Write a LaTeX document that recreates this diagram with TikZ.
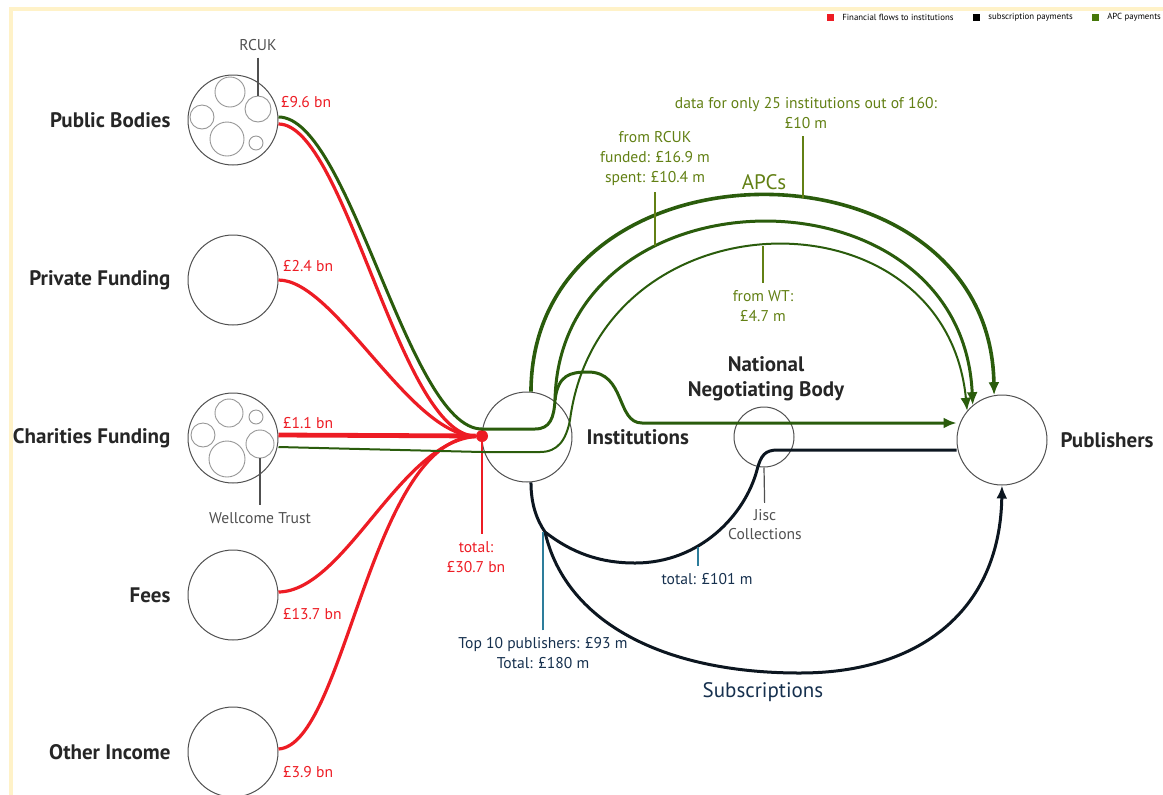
\documentclass[tikz,border=0pt]{standalone}
\usepackage{fontspec}
\setmainfont{PT Sans}
\usetikzlibrary{arrows.meta, calc, positioning}
\definecolor{flowred}{RGB}{237,28,36}
\definecolor{apcline}{RGB}{42,92,12}
\definecolor{apctext}{RGB}{98,128,20}
\definecolor{keygreen}{RGB}{70,120,10}
\definecolor{subline}{RGB}{12,22,32}
\definecolor{subtext}{RGB}{22,48,78}
\definecolor{subpointer}{RGB}{45,125,155}
\definecolor{cream}{RGB}{255,242,200}
\definecolor{ringgray}{RGB}{80,80,80}
\definecolor{innergray}{RGB}{150,150,150}

\begin{document}
\begin{tikzpicture}[x=0.5pt, y=-0.5pt, >={Latex[length=6.5pt, width=5.5pt]},
    source/.style={circle, draw=ringgray, line width=0.5pt, minimum size=45pt, inner sep=0pt},
    inner/.style={circle, draw=innergray, line width=0.45pt, inner sep=0pt},
    bigname/.style={font=\fontsize{10.5}{12.5}\selectfont\bfseries, text=black!85},
    amount/.style={text=flowred, font=\fontsize{7.8}{10}\selectfont, anchor=west},
    apcnote/.style={text=apctext, font=\fontsize{7.8}{10}\selectfont, align=center},
    subnote/.style={text=subtext, font=\fontsize{7.8}{10}\selectfont, align=center},
    smallnote/.style={text=ringgray, font=\fontsize{7.8}{9.5}\selectfont, align=center},
    keytext/.style={font=\fontsize{4.4}{4.4}\selectfont, inner sep=1pt},
    keybox/.style={minimum size=3.5pt, inner sep=0pt},
    redflow/.style={draw=flowred, line width=1.6pt},
    apcflow/.style={draw=apcline, line width=1.5pt},
    subflow/.style={draw=subline, line width=1.5pt},
    pointer/.style={line width=0.6pt}]
\useasboundingbox (0,0) rectangle (1163,794);
\clip (0,0) rectangle (1163,794);
\draw[cream, line width=2pt] (10.5,9) rectangle (1200,820);

\node[keybox, fill=flowred] (keyred) at (830,17) {};
\node[keytext, right=3pt of keyred] {Financial flows to institutions};
\node[keybox, fill=black] (keysub) at (976,17) {};
\node[keytext, right=3pt of keysub] {subscription payments};
\node[keybox, fill=keygreen] (keyapc) at (1095,17) {};
\node[keytext, right=3pt of keyapc] {APC payments};

\node[source] (pub) at (233,120) {};
\node[source] (priv) at (233,280) {};
\node[source] (char) at (233,438) {};
\node[source] (fees) at (233,595) {};
\node[source] (other) at (233,752) {};
\node[bigname, left=5pt of pub] {Public Bodies};
\node[bigname, left=5pt of priv] {Private Funding};
\node[bigname, left=5pt of char] {Charities Funding};
\node[bigname, left=5pt of fees] {Fees};
\node[bigname, left=5pt of other] {Other Income};

\node[inner, minimum size=15pt] (pub1) at (230,92) {};
\node[inner, minimum size=12pt] (pub2) at (202,117) {};
\node[inner, minimum size=13pt] (rcuk) at (258,109) {};
\node[inner, minimum size=17pt] (pub3) at (227,139) {};
\node[inner, minimum size=7pt] (pub4) at (256,143) {};
\node[inner, minimum size=14pt] (char1) at (229,413) {};
\node[inner, minimum size=7pt] (char2) at (256,417) {};
\node[inner, minimum size=12pt] (char3) at (203,435) {};
\node[inner, minimum size=14pt] (wt) at (260,444) {};
\node[inner, minimum size=18pt] (char4) at (227,459) {};
\node[smallnote] (rcuklabel) at (258,45) {RCUK};
\node[smallnote] (wtlabel) at (260,518) {Wellcome Trust};
\draw[pointer, ringgray] (rcuklabel) -- (rcuk.north);
\draw[pointer, ringgray] (wt.south) -- (wtlabel);

\node[amount] (pubamt) at (274,102) {£9.6 bn};
\node[amount] (privamt) at (276,266) {£2.4 bn};
\node[amount] (charamt) at (276,423) {£1.1 bn};
\node[amount] (feesamt) at (276,614) {£13.7 bn};
\node[amount] (otheramt) at (276,772) {£3.9 bn};

\node[source] (inst) at (527,437) {};
\node[source] (publ) at (1002,440) {};
\node[circle, draw=ringgray, line width=0.5pt, minimum size=30pt, inner sep=0pt] (nnb) at (764,437) {};
\node[bigname, right=3.5pt of inst] {Institutions};
\node[bigname, right=3pt of publ] {Publishers};
\node[bigname, align=center] (nnblabel) at (766,379) {National\\Negotiating Body};
\node[smallnote] (jisc) at (765,525) {Jisc\\Collections};
\draw[pointer, ringgray] (nnb.south) -- (jisc);

\node[circle, fill=flowred, minimum size=6pt, inner sep=0pt] (dot) at (482,436) {};
\draw[redflow] ($(pub.east)+(0,4)$) .. controls (345,124) and (400,436) .. (dot);
\draw[redflow] (priv.east) .. controls (335,280) and (410,436) .. (dot);
\draw[redflow, line width=2.4pt] ($(char.east)+(0,-3)$) -- (dot);
\draw[redflow] ($(fees.east)+(0,-3)$) .. controls (345,591) and (400,442) .. (dot);
\draw[redflow] ($(other.east)+(0,-3)$) .. controls (345,745) and (370,440) .. (dot);
\node[text=flowred, font=\fontsize{7.8}{10}\selectfont, align=center] (total) at (476,557) {total:\\£30.7 bn};
\draw[pointer, flowred] (dot) -- (dot |- total.north);

\coordinate (rcukbend) at (555,400);
\coordinate (humpend) at (642,423);
\draw[apcflow, ->] ($(pub.east)+(0,-3)$) .. controls (350,117) and (408,429) .. (482,429) -- (535,429)
    .. controls (550,429) and (554,418) .. (rcukbend) .. controls (560,165) and (962,160) .. (publ.130);
\draw[apcflow, ->] (rcukbend) .. controls (558,375) and (570,372) .. (588,372)
    .. controls (626,372) and (616,423) .. (humpend) -- (humpend -| publ.west);
\draw[apcflow, line width=1pt, ->] ($(char.east)+(0,9)$) -- (482,452) -- (540,452)
    .. controls (558,452) and (566,440) .. (570,420) .. controls (600,192) and (945,185) .. (publ.140);
\draw[apcflow, line width=1.8pt, ->] (inst.85) .. controls (532,130) and (990,130) .. (publ.100);

\node[apctext, font=\fontsize{10.5}{12}\selectfont] (apcs) at (764,182) {APCs};
\node[apcnote] (only25) at (806,113) {data for only 25 institutions out of 160:\\£10 m};
\node[apcnote] (fromrcuk) at (655,158) {from RCUK\\funded: £16.9 m\\spent: £10.4 m};
\node[apcnote] (fromwt) at (763,306) {from WT:\\£4.7 m};
\coordinate (p25) at (803,198);
\coordinate (prcuk) at (655,246);
\coordinate (pwt) at (763,246);
\draw[pointer, apctext] (p25) -- (p25 |- only25.south);
\draw[pointer, apctext] (prcuk) -- (prcuk |- fromrcuk.south);
\draw[pointer, apctext] (pwt) -- (pwt |- fromwt.north);

\coordinate (split) at (545,532);
\coordinate (jiscbend) at (778,450);
\draw[subflow] (inst.275) .. controls (531,505) and (537,520) .. (split)
    .. controls (572,553) and (600,563) .. (635,563) .. controls (700,563) and (745,515) .. (757,470)
    .. controls (761,455) and (765,450) .. (jiscbend) -- (jiscbend -| publ.west);
\draw[subflow, ->] (split) .. controls (565,620) and (660,673) .. (800,673)
    .. controls (920,673) and (1000,610) .. (publ.south);
\node[font=\fontsize{10.5}{12}\selectfont, text=subtext] (subs) at (763,692) {Subscriptions};
\node[subnote] (top10) at (543,653) {Top 10 publishers: £93 m\\Total: £180 m};
\node[subnote] (tot101) at (707,579) {total: £101 m};
\coordinate (p101) at (698,547);
\draw[pointer, subpointer] (top10.north) -- (top10.north |- split);
\draw[pointer, subpointer] (p101) -- (p101 |- tot101.north);
\end{tikzpicture}
\end{document}
